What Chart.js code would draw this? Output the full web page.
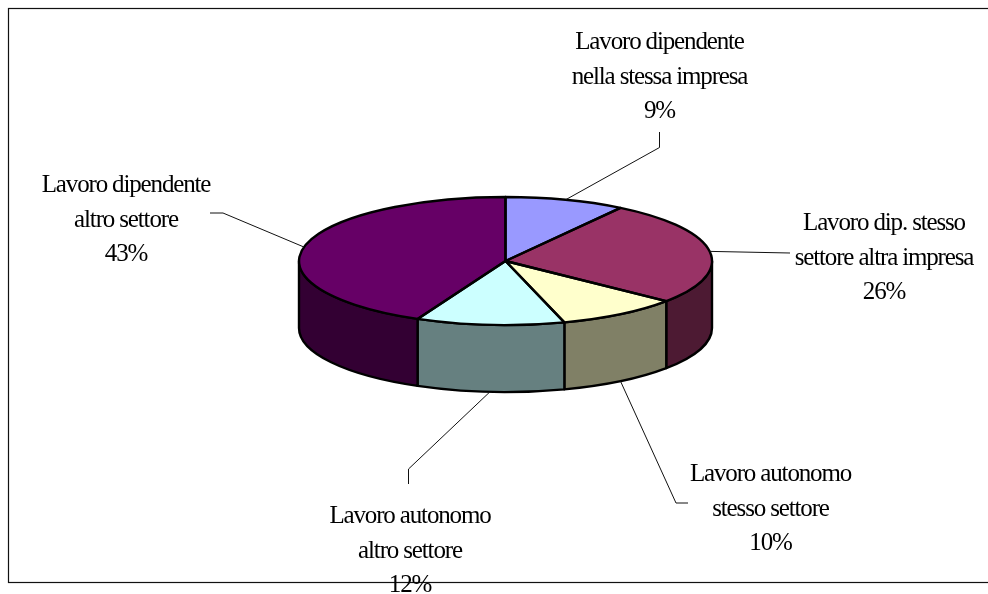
<!DOCTYPE html>
<html>
<head>
<meta charset="utf-8">
<style>html,body{margin:0;padding:0;background:#fff}canvas{display:block}</style>
<script src="https://cdn.jsdelivr.net/npm/chart.js@4"></script>
</head>
<body>
<canvas id="c" width="988" height="594"></canvas>
<script>
const categories = [
  ["Lavoro dipendente", "nella stessa impresa"],
  ["Lavoro dip. stesso", "settore altra impresa"],
  ["Lavoro autonomo", "stesso settore"],
  ["Lavoro autonomo", "altro settore"],
  ["Lavoro dipendente", "altro settore"]
];
const shares = [9.4, 26.4, 9.6, 11.6, 43.0];
const topColors = ["#9999FF", "#993366", "#FFFFCC", "#CCFFFF", "#660066"];
const wallColors = ["#4D4D80", "#4D1A33", "#808066", "#668080", "#330033"];

// layout of the label blocks: centre x, first baseline
const labelPlaces = [[659.5, 49], [884, 230], [770.5, 481], [410, 523], [126, 192]];
// leader bends, from the pie outward
const leaderBends = [
  [[659.5, 147.5], [659.5, 132]],
  [[790, 253]],
  [[676, 503], [688, 503]],
  [[408.5, 469], [408.5, 484]],
  [[223, 213], [210, 213]]
];
const pie = { cx: 505.5, cy: 261, rx: 206.5, ry: 64, depth: 67 };
const lineGap = 34.5;

const pie3d = {
  id: "pie3d",
  beforeDraw(chart) {
    const ctx = chart.ctx;
    ctx.save();
    ctx.fillStyle = "#fff";
    ctx.fillRect(0, 0, chart.width, chart.height);
    ctx.strokeStyle = "#111";
    ctx.lineWidth = 1.2;
    ctx.strokeRect(8.5, 8.5, 1100, 574);
    ctx.restore();
  },
  beforeDatasetsDraw(chart) {
    const ctx = chart.ctx, arcs = chart.getDatasetMeta(0).data;
    // side wall of each slice that faces the viewer
    ctx.save();
    ctx.lineWidth = 2.4;
    ctx.strokeStyle = "#000";
    ctx.lineJoin = "round";
    arcs.forEach((arc, i) => {
      const a0 = Math.max(arc.startAngle, 0), a1 = Math.min(arc.endAngle, Math.PI);
      if (a0 >= a1) return;
      ctx.beginPath();
      ctx.ellipse(pie.cx, pie.cy, pie.rx, pie.ry, 0, a0, a1);
      ctx.ellipse(pie.cx, pie.cy + pie.depth, pie.rx, pie.ry, 0, a1, a0, true);
      ctx.closePath();
      ctx.fillStyle = wallColors[i];
      ctx.fill();
      ctx.stroke();
    });
    ctx.restore();
    // squash the library's own arcs into the tilted top face
    const a = arcs[0];
    ctx.save();
    ctx.translate(pie.cx, pie.cy);
    ctx.scale(1, pie.ry / pie.rx);
    ctx.translate(-a.x, -a.y);
  },
  afterDatasetsDraw(chart) {
    const ctx = chart.ctx, arcs = chart.getDatasetMeta(0).data;
    ctx.restore();
    ctx.save();
    ctx.lineWidth = 2.4;
    ctx.strokeStyle = "#000";
    ctx.lineJoin = "round";
    arcs.forEach(arc => {
      ctx.beginPath();
      ctx.moveTo(pie.cx, pie.cy);
      ctx.ellipse(pie.cx, pie.cy, pie.rx, pie.ry, 0, arc.startAngle, arc.endAngle);
      ctx.closePath();
      ctx.stroke();
    });
    // leaders
    ctx.lineWidth = 1;
    ctx.strokeStyle = "#111";
    arcs.forEach((arc, i) => {
      const mid = (arc.startAngle + arc.endAngle) / 2;
      const sx = pie.cx + pie.rx * Math.cos(mid);
      let sy = pie.cy + pie.ry * Math.sin(mid);
      if (Math.sin(mid) > 0.7) sy += pie.depth;
      ctx.beginPath();
      ctx.moveTo(sx, sy);
      leaderBends[i].forEach(p => ctx.lineTo(p[0], p[1]));
      ctx.stroke();
    });
    // labels
    const total = shares.reduce((s, v) => s + v, 0);
    ctx.fillStyle = "#000";
    ctx.font = '25px "Liberation Serif"';
    ctx.letterSpacing = "-1.15px";
    ctx.textAlign = "center";
    ctx.textBaseline = "alphabetic";
    categories.forEach((lines, i) => {
      const all = lines.concat(Math.round(shares[i] / total * 100) + "%");
      all.forEach((t, j) => ctx.fillText(t, labelPlaces[i][0], labelPlaces[i][1] + j * lineGap));
    });
    ctx.restore();
  }
};

new Chart(document.getElementById("c"), {
  type: "pie",
  data: {
    labels: categories.map(l => l.join(" ")),
    datasets: [{
      data: shares,
      backgroundColor: topColors,
      borderWidth: 0,
      radius: pie.rx,
      clip: false
    }]
  },
  options: {
    responsive: false,
    animation: false,
    plugins: { legend: { display: false }, tooltip: { enabled: false } }
  },
  plugins: [pie3d]
});
</script>
</body>
</html>
